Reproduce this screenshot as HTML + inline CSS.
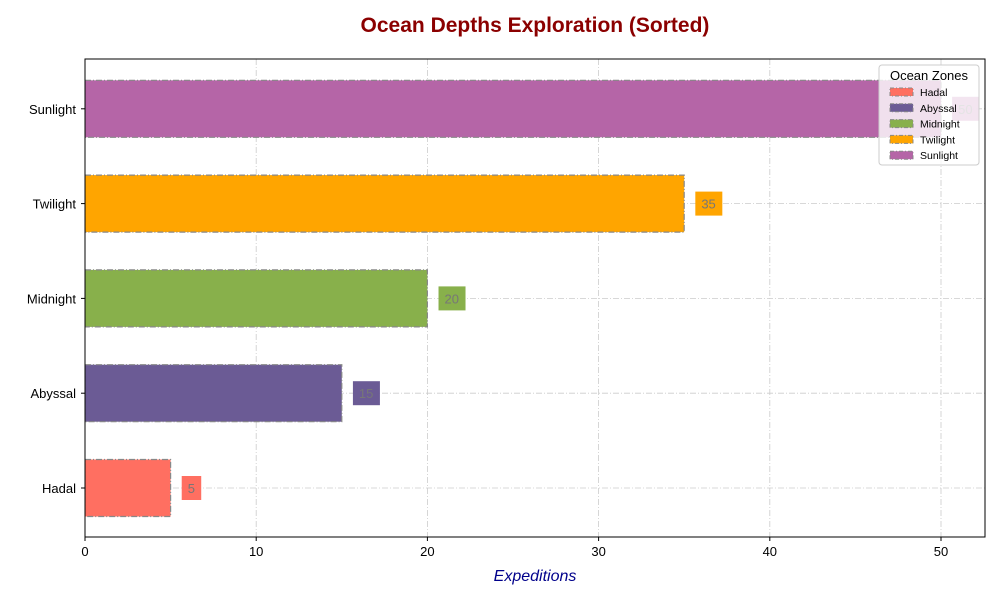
<!DOCTYPE html>
<html><head><meta charset="utf-8"><style>
body{margin:0;background:#fff}
svg{font-family:"Liberation Sans","DejaVu Sans",sans-serif}
</style></head><body>
<svg id="chart" width="1000" height="600">
<text x="535" y="32" text-anchor="middle" font-size="21" font-weight="bold" fill="#8b0000">Ocean Depths Exploration (Sorted)</text>
<text x="535" y="581" text-anchor="middle" font-size="16" font-style="italic" fill="#00008b">Expeditions</text>
<defs><clipPath id="cp"><rect x="85" y="59" width="900" height="478"/></clipPath></defs>
<g id="grid"></g><g id="bars" clip-path="url(#cp)"></g><g id="labels"></g><g id="axes"></g>
<g id="legend"></g>
</svg>
<script>
const categories=["Hadal","Abyssal","Midnight","Twilight","Sunlight"];
const values=[5,15,20,35,50];
const colors=["#ff6f61","#6b5b95","#88b04b","#ffa500","#b565a7"];
const xTicks=[0,10,20,30,40,50];
const L=85,R=985,T=59,B=537,xmax=52.57;
const xs=v=>L+v*(R-L)/xmax;
const ys=i=>488-i*94.8;
const NS="http://www.w3.org/2000/svg";
function mk(p,t,a){const e=document.createElementNS(NS,t);for(const k in a)e.setAttribute(k,a[k]);p.appendChild(e);return e;}
const g=document.getElementById('grid'),bg=document.getElementById('bars'),lg=document.getElementById('labels'),ax=document.getElementById('axes');
xTicks.forEach(t=>{const x=xs(t);
const l=mk(g,'line',{x1:x,x2:x,y1:T,y2:B,stroke:'#ccc','stroke-dasharray':'6 2 1 2','stroke-width':0.8});


mk(ax,'line',{x1:x,x2:x,y1:B,y2:B+4,stroke:'#000'});
const tx=mk(ax,'text',{x:x,y:B+19,'text-anchor':'middle','font-size':13});tx.textContent=t;

});
categories.forEach((c,i)=>{const y=ys(i);
const l=mk(g,'line',{x1:L,x2:R,y1:y,y2:y,stroke:'#ccc','stroke-dasharray':'6 2 1 2','stroke-width':0.8});


const b=mk(bg,'rect',{x:L,y:y-28.5,width:xs(values[i])-L,height:57,fill:colors[i],stroke:'#888','stroke-dasharray':'6 2 1 2','stroke-width':1.2});


const tw=String(values[i]).length*7.5;
const bx=xs(values[i]+1)-6;
const lb=mk(lg,'rect',{x:bx,y:y-12,width:tw+12,height:24,fill:colors[i],opacity:i==4?0.85:1});


const tt=mk(lg,'text',{x:xs(values[i]+1),y:y+5,'font-size':13,fill:'#777'});tt.textContent=values[i];


mk(ax,'line',{x1:L-4,x2:L,y1:y,y2:y,stroke:'#000'});
const yl=mk(ax,'text',{x:L-9,y:y+5,'text-anchor':'end','font-size':13});yl.textContent=c;

});
mk(ax,'rect',{x:L,y:T,width:R-L,height:B-T,fill:'none',stroke:'#000','stroke-width':1});
const le=document.getElementById('legend');
mk(le,'rect',{x:879,y:65,width:100,height:100,rx:3,fill:'rgba(255,255,255,0.8)',stroke:'#ccc'});
const lt=mk(le,'text',{x:929,y:80,'text-anchor':'middle','font-size':13});lt.textContent='Ocean Zones';
categories.forEach((c,i)=>{const y=92+i*15.8;
const r=mk(le,'rect',{x:890,y:y-4,width:23,height:8,fill:colors[i],stroke:'#888','stroke-dasharray':'4 2 1 2'});


const t=mk(le,'text',{x:920,y:y+4,'font-size':10.5});t.textContent=c;

});
</script>
</body></html>
